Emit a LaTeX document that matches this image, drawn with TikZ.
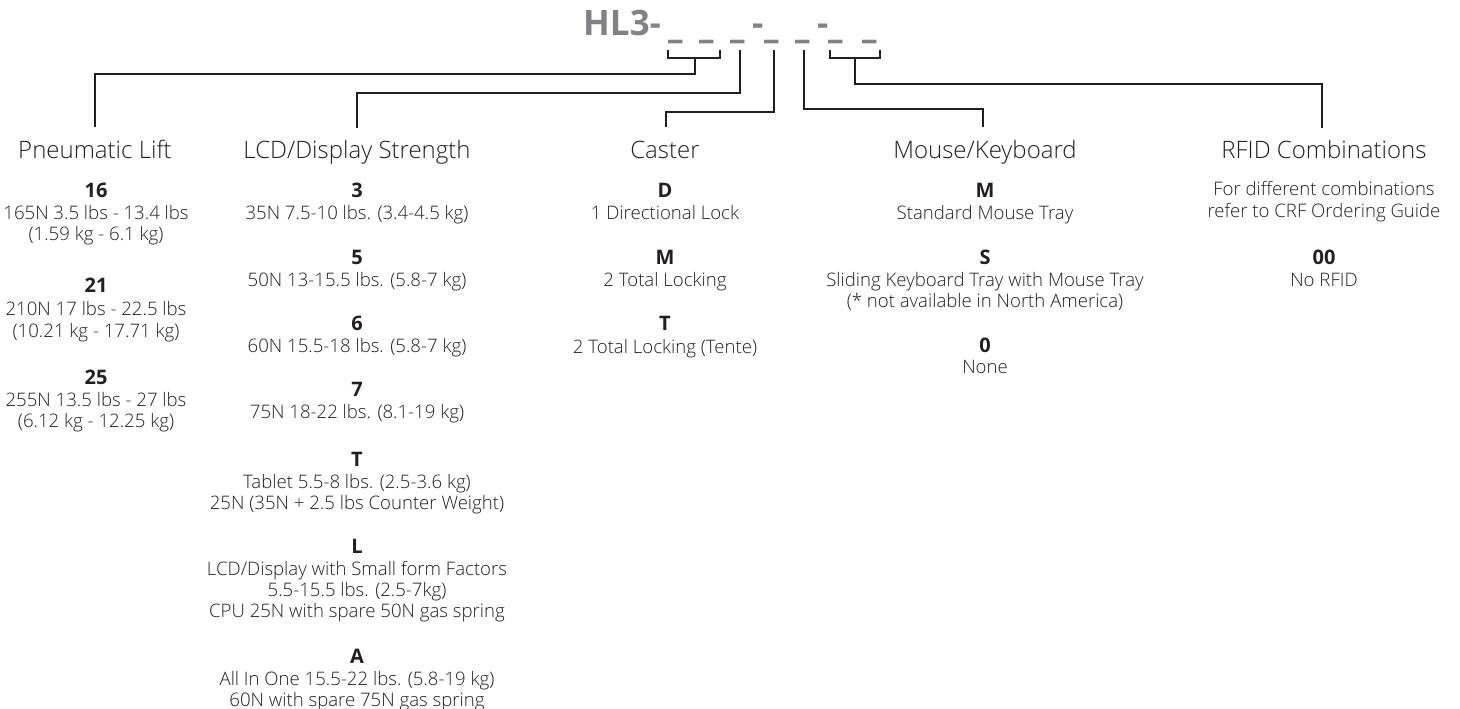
\documentclass[tikz,border=0pt]{standalone}
\usepackage{graphicx}
\usepackage{fontspec}
\IfFontExistsTF{Open Sans Light}
  {\setmainfont{Open Sans Light}[BoldFont={Open Sans Bold}]}
  {\setmainfont{Open Sans}}
\definecolor{ink}{HTML}{231F20}
\definecolor{ttlgray}{HTML}{808285}
\newcommand{\usc}{\makebox[0pt]{\scalebox{1}[1.5]{\_}}}
\newcommand{\hyp}{\makebox[0pt]{-}}
\begin{document}
\begin{tikzpicture}[x=1pt,y=-1pt,
  conn/.style={line width=1.9pt,draw=ink,line join=miter},
  hdtxt/.style={anchor=base,inner sep=0pt,text=ink,font=\fontsize{24}{28}\selectfont},
  cdtxt/.style={anchor=base,inner sep=0pt,text=ink,font=\bfseries\fontsize{20}{23}\selectfont},
  dstxt/.style={anchor=base,inner sep=0pt,text=ink,font=\fontsize{18.6}{21}\selectfont},
  ttltxt/.style={anchor=base west,inner sep=0pt,text=ttlgray,font=\bfseries\fontsize{35}{40}\selectfont}]
\useasboundingbox (0,0) rectangle (1460,709);

% ---------- title: HL3-_ _ _-_ _-_ _ ----------
\node[ttltxt] (title) at (583,36) {\rlap{HL3-}\kern92pt\usc\kern31pt\usc\kern31.5pt\usc\kern20pt\hyp\kern13.5pt\usc\kern31.5pt\usc\kern20pt\hyp\kern13pt\usc\kern33.5pt\usc\kern9pt};

% ---------- connector coordinates ----------
\coordinate (bla) at (668,50);
\coordinate (blb) at (720,50);
\coordinate (bls) at (695,58);
\coordinate (bra) at (830,50);
\coordinate (brb) at (880,50);
\coordinate (brs) at (855,58);
\coordinate (lcdtop) at (740,50);
\coordinate (castop) at (774,50);
\coordinate (moutop) at (804,50);
\coordinate (pnend) at (95,127);
\coordinate (lcdend) at (357,128);
\coordinate (casend) at (666,127);
\coordinate (mouend) at (983,127);
\coordinate (rfend) at (1322,128);

% ---------- brackets and connectors ----------
\draw[conn] (bla) -- ++(0,8) -- (720,58) -- (blb);
\draw[conn] (bls) -- (695,74) -| (pnend);
\draw[conn] (lcdtop) -- (740,93) -| (lcdend);
\draw[conn] (castop) -- (774,112) -| (casend);
\draw[conn] (moutop) -- (804,109) -| (mouend);
\draw[conn] (bra) -- ++(0,8) -- (880,58) -- (brb);
\draw[conn] (brs) -- (855,84) -| (rfend);

% ---------- headers ----------
\node[hdtxt] (hpn) at (95,158) {Pneumatic Lift};
\node[hdtxt] (hlcd) at (357,158) {LCD/Display Strength};
\node[hdtxt] (hcas) at (665,158) {Caster};
\node[hdtxt] (hmou) at (985,158) {Mouse/Keyboard};
\node[hdtxt] (hrf) at (1324,158) {RFID Combinations};

% ---------- Pneumatic Lift ----------
\node[cdtxt] (p1) at (96,197) {16};
\node[dstxt] (p1a) at (96,219) {165N 3.5 lbs - 13.4 lbs};
\node[dstxt] (p1b) at (96,240) {(1.59 kg - 6.1 kg)};
\node[cdtxt] (p2) at (96,292) {21};
\node[dstxt] (p2a) at (96,315) {210N 17 lbs - 22.5 lbs};
\node[dstxt] (p2b) at (96,337) {(10.21 kg - 17.71 kg)};
\node[cdtxt] (p3) at (96,384) {25};
\node[dstxt] (p3a) at (96,406) {255N 13.5 lbs - 27 lbs};
\node[dstxt] (p3b) at (96,427) {(6.12 kg - 12.25 kg)};

% ---------- LCD/Display Strength ----------
\node[cdtxt] (l1) at (357,197) {3};
\node[dstxt] (l1a) at (357,219) {35N 7.5-10 lbs. (3.4-4.5 kg)};
\node[cdtxt] (l2) at (357,264) {5};
\node[dstxt] (l2a) at (357,286) {50N 13-15.5 lbs. (5.8-7 kg)};
\node[cdtxt] (l3) at (357,330) {6};
\node[dstxt] (l3a) at (357,352) {60N 15.5-18 lbs. (5.8-7 kg)};
\node[cdtxt] (l4) at (357,396) {7};
\node[dstxt] (l4a) at (357,418) {75N 18-22 lbs. (8.1-19 kg)};
\node[cdtxt] (l5) at (357,466) {T};
\node[dstxt] (l5a) at (357,488) {Tablet 5.5-8 lbs. (2.5-3.6 kg)};
\node[dstxt] (l5b) at (357,509) {25N (35N + 2.5 lbs Counter Weight)};
\node[cdtxt] (l6) at (357,553) {L};
\node[dstxt] (l6a) at (357,575) {LCD/Display with Small form Factors};
\node[dstxt] (l6b) at (357,596) {5.5-15.5 lbs. (2.5-7kg)};
\node[dstxt] (l6c) at (357,617) {CPU 25N with spare 50N gas spring};
\node[cdtxt] (l7) at (357,663) {A};
\node[dstxt] (l7a) at (357,685) {All In One 15.5-22 lbs. (5.8-19 kg)};
\node[dstxt] (l7b) at (357,706) {60N with spare 75N gas spring};

% ---------- Caster ----------
\node[cdtxt] (c1) at (665,197) {D};
\node[dstxt] (c1a) at (665,219) {1 Directional Lock};
\node[cdtxt] (c2) at (665,264) {M};
\node[dstxt] (c2a) at (665,286) {2 Total Locking};
\node[cdtxt] (c3) at (665,330) {T};
\node[dstxt] (c3a) at (665,353) {2 Total Locking (Tente)};

% ---------- Mouse/Keyboard ----------
\node[cdtxt] (m1) at (985,197) {M};
\node[dstxt] (m1a) at (985,219) {Standard Mouse Tray};
\node[cdtxt] (m2) at (985,264) {S};
\node[dstxt] (m2a) at (985,286) {Sliding Keyboard Tray with Mouse Tray};
\node[dstxt] (m2b) at (985,307) {(* not available in North America)};
\node[cdtxt] (m3) at (985,352) {0};
\node[dstxt] (m3a) at (985,373) {None};

% ---------- RFID Combinations ----------
\node[dstxt] (r0a) at (1324,195) {For different combinations};
\node[dstxt] (r0b) at (1324,217) {refer to CRF Ordering Guide};
\node[cdtxt] (r1) at (1324,264) {00};
\node[dstxt] (r1a) at (1324,286) {No RFID};
\end{tikzpicture}
\end{document}
